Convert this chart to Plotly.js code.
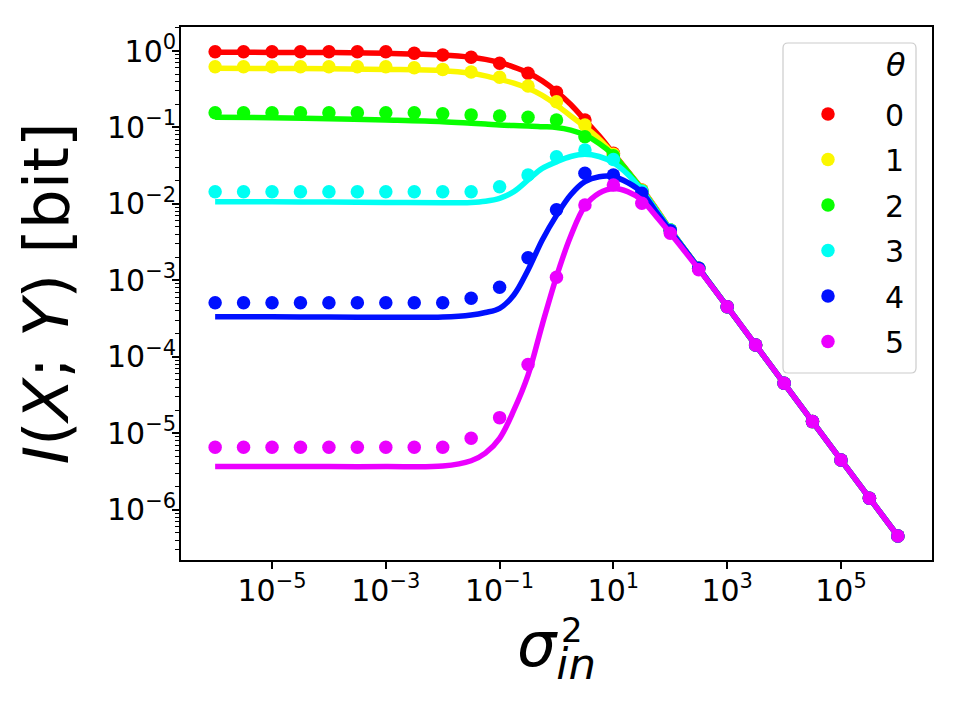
<!DOCTYPE html>
<html>
<head>
<meta charset="utf-8">
<script src="https://cdn.plot.ly/plotly-3.0.1.min.js"></script>
<style>
  html, body { margin: 0; padding: 0; background: #ffffff; }
  #chart { width: 960px; height: 720px; }
</style>
</head>
<body>
<div id="chart"></div>
<script>
// Input noise variance sampled every half decade (simulation points)
const sigma2Points = [1e-6, 3.16e-6, 1e-5, 3.16e-5, 1e-4, 3.16e-4, 1e-3, 3.16e-3, 1e-2, 3.16e-2,
  0.1, 0.316, 1, 3.16, 10, 31.6, 100, 316, 1000, 3160, 1e4, 3.16e4, 1e5, 3.16e5, 1e6];

// Simulated mutual information [bit] for each theta
const simTheta0 = [0.98, 0.98, 0.98, 0.98, 0.98, 0.98, 0.98, 0.933, 0.887, 0.828, 0.690, 0.511, 0.288,
  0.125, 0.0459, 0.0152, 0.00456, 0.00144, 4.52e-4, 1.43e-4, 4.50e-5, 1.42e-5, 4.47e-6, 1.41e-6, 4.53e-7];
const simTheta1 = [0.624, 0.624, 0.624, 0.624, 0.624, 0.624, 0.624, 0.603, 0.575, 0.531, 0.453, 0.348, 0.217,
  0.1076, 0.0447, 0.01514, 0.00456, 0.00144, 4.52e-4, 1.43e-4, 4.50e-5, 1.42e-5, 4.47e-6, 1.41e-6, 4.53e-7];
const simTheta2 = [0.156, 0.156, 0.156, 0.156, 0.156, 0.156, 0.156, 0.156, 0.151, 0.146, 0.141, 0.136, 0.125,
  0.0757, 0.0427, 0.0148, 0.00456, 0.00144, 4.52e-4, 1.43e-4, 4.50e-5, 1.42e-5, 4.47e-6, 1.41e-6, 4.53e-7];
const simTheta3 = [0.01445, 0.01445, 0.01445, 0.01445, 0.01445, 0.01445, 0.01445, 0.01445, 0.01445, 0.01445,
  0.0168, 0.0239, 0.0414, 0.0507, 0.0380, 0.01462, 0.00456, 0.00144, 4.52e-4, 1.43e-4, 4.50e-5, 1.42e-5,
  4.47e-6, 1.41e-6, 4.53e-7];
const simTheta4 = [5.10e-4, 5.10e-4, 5.10e-4, 5.10e-4, 5.10e-4, 5.10e-4, 5.10e-4, 5.10e-4, 5.10e-4, 5.82e-4,
  8.11e-4, 0.00198, 0.00841, 0.0251, 0.0239, 0.0138, 0.00447, 0.00144, 4.52e-4, 1.43e-4, 4.50e-5, 1.42e-5,
  4.47e-6, 1.41e-6, 4.53e-7];
const simTheta5 = [6.55e-6, 6.55e-6, 6.55e-6, 6.55e-6, 6.55e-6, 6.55e-6, 6.55e-6, 6.55e-6, 6.55e-6, 8.59e-6,
  1.60e-5, 7.94e-5, 0.001096, 0.00968, 0.01766, 0.01023, 0.00412, 0.00138, 4.52e-4, 1.43e-4, 4.50e-5, 1.42e-5,
  4.47e-6, 1.41e-6, 4.53e-7];

// Theory curves, sampled more finely through the transition
const sigma2Curve = [1e-6, 1e-5, 1e-4, 1e-3, 1e-2, 0.0316, 0.0562, 0.1, 0.178, 0.316, 0.562, 1, 1.78,
  3.16, 5.62, 10, 17.8, 31.6, 56.2, 100, 316, 1000, 1e4, 1e5, 1e6];
const theoryTheta0 = [0.962, 0.959, 0.955, 0.933, 0.887, 0.828, 0.776, 0.705, 0.617, 0.521, 0.407, 0.295, 0.1995,
  0.125, 0.0776, 0.0457, 0.0269, 0.01585, 0.00871, 0.00462, 0.00144, 4.52e-4, 4.50e-5, 4.47e-6, 4.53e-7];
const theoryTheta1 = [0.593, 0.590, 0.586, 0.575, 0.553, 0.511, 0.473, 0.426, 0.380, 0.325, 0.263, 0.197, 0.141,
  0.102, 0.0708, 0.0447, 0.0266, 0.01567, 0.00861, 0.00462, 0.00144, 4.52e-4, 4.50e-5, 4.47e-6, 4.53e-7];
const theoryTheta2 = [0.136, 0.134, 0.130, 0.125, 0.119, 0.1135, 0.1109, 0.1076, 0.1059, 0.1045, 0.1023, 0.100,
  0.0923, 0.0794, 0.0617, 0.0437, 0.0266, 0.01549, 0.00841, 0.00459, 0.00144, 4.52e-4, 4.50e-5, 4.47e-6, 4.53e-7];
const theoryTheta3 = [0.01069, 0.01064, 0.01057, 0.01047, 0.01035, 0.01047, 0.01084, 0.01183, 0.01445, 0.02056,
  0.02917, 0.0355, 0.0417, 0.0447, 0.0417, 0.0347, 0.0245, 0.01514, 0.00832, 0.00457, 0.00144, 4.52e-4,
  4.50e-5, 4.47e-6, 4.53e-7];
const theoryTheta4 = [3.35e-4, 3.33e-4, 3.31e-4, 3.29e-4, 3.31e-4, 3.52e-4, 3.80e-4, 4.31e-4, 6.43e-4, 0.001365,
  0.003373, 0.00708, 0.01318, 0.01954, 0.0227, 0.0227, 0.01905, 0.01413, 0.00794, 0.00447, 0.00144, 4.52e-4,
  4.50e-5, 4.47e-6, 4.53e-7];
const theoryTheta5 = [3.66e-6, 3.66e-6, 3.66e-6, 3.66e-6, 3.72e-6, 4.37e-6, 5.50e-6, 8.59e-6, 2.00e-5, 5.75e-5,
  2.63e-4, 0.001122, 0.0038, 0.00933, 0.0138, 0.01585, 0.01445, 0.01122, 0.00692, 0.00412, 0.0014, 4.52e-4,
  4.50e-5, 4.47e-6, 4.53e-7];

const thetaLabels = ['0', '1', '2', '3', '4', '5'];
const xTickVals = [1e-5, 1e-3, 1e-1, 1e1, 1e3, 1e5];
const xTickText = ['10<sup>−5</sup>', '10<sup>−3</sup>', '10<sup>−1</sup>', '10<sup>1</sup>', '10<sup>3</sup>', '10<sup>5</sup>'];
const yTickVals = [1, 1e-1, 1e-2, 1e-3, 1e-4, 1e-5, 1e-6];
const yTickText = ['10<sup>0</sup>', '10<sup>−1</sup>', '10<sup>−2</sup>', '10<sup>−3</sup>', '10<sup>−4</sup>', '10<sup>−5</sup>', '10<sup>−6</sup>'];

// hsv colormap samples
const colors = ['rgb(255,0,0)', 'rgb(251,247,0)', 'rgb(8,255,0)', 'rgb(0,255,243)', 'rgb(0,16,255)', 'rgb(235,0,255)'];

const simSeries = [simTheta0, simTheta1, simTheta2, simTheta3, simTheta4, simTheta5];
const theorySeries = [theoryTheta0, theoryTheta1, theoryTheta2, theoryTheta3, theoryTheta4, theoryTheta5];

const traces = [];
for (let k = 0; k < simSeries.length; k++) {
  traces.push({
    type: 'scatter', mode: 'markers',
    x: sigma2Points, y: simSeries[k],
    name: thetaLabels[k], legendgroup: 'g' + k,
    marker: {color: colors[k], size: 13.5, line: {width: 0}},
    hoverinfo: 'x+y+name'
  });
  traces.push({
    type: 'scatter', mode: 'lines',
    x: sigma2Curve, y: theorySeries[k],
    name: thetaLabels[k], legendgroup: 'g' + k, showlegend: false,
    line: {color: colors[k], width: 5.5, shape: 'spline', smoothing: 1},
    hoverinfo: 'skip'
  });
}

// rounded legend frame in paper coordinates
const fx0 = 0.8016, fx1 = 0.9787, fy0 = 0.3508, fy1 = 0.970, rx = 0.0067, ry = 0.0094;
const framePath = `M ${fx0 + rx},${fy1} L ${fx1 - rx},${fy1} Q ${fx1},${fy1} ${fx1},${fy1 - ry} ` +
  `L ${fx1},${fy0 + ry} Q ${fx1},${fy0} ${fx1 - rx},${fy0} L ${fx0 + rx},${fy0} Q ${fx0},${fy0} ${fx0},${fy0 + ry} ` +
  `L ${fx0},${fy1 - ry} Q ${fx0},${fy1} ${fx0 + rx},${fy1} Z`;

const layout = {
  width: 960, height: 720,
  margin: {l: 181, r: 28, t: 27, b: 160},
  paper_bgcolor: '#ffffff', plot_bgcolor: '#ffffff',
  font: {family: 'DejaVu Sans', color: '#000000'},
  showlegend: true,
  hovermode: 'closest',
  xaxis: {
    type: 'log', range: [-6.6, 6.6],
    tickmode: 'array', tickvals: xTickVals, ticktext: xTickText,
    tickfont: {size: 30, family: 'DejaVu Sans'},
    ticks: 'outside', ticklen: 7, tickwidth: 1.6, tickcolor: '#000000',
    ticklabelstandoff: -4,
    showline: true, linecolor: '#000000', linewidth: 1.7, mirror: true,
    showgrid: false, zeroline: false,
    title: {text: '<i>σ</i><sub><i>in</i></sub>', font: {size: 62, family: 'DejaVu Sans'}, standoff: 12}
  },
  yaxis: {
    type: 'log', range: [-6.658, 0.314],
    tickmode: 'array', tickvals: yTickVals, ticktext: yTickText,
    tickfont: {size: 30, family: 'DejaVu Sans'},
    ticks: 'outside', ticklen: 7, tickwidth: 1.6, tickcolor: '#000000',
    ticklabelstandoff: -10,
    minor: {ticks: 'outside', ticklen: 4, tickwidth: 1.2, tickcolor: '#000000', dtick: 'D1', showgrid: false},
    showline: true, linecolor: '#000000', linewidth: 1.7, mirror: true,
    showgrid: false, zeroline: false,
    title: {text: '<i>I</i>(<i>X</i>; <i>Y</i>) [bit]', font: {size: 63, family: 'DejaVu Sans'}, standoff: 18}
  },
  legend: {
    x: 0.7856, xanchor: 'left', y: 0.8855, yanchor: 'top',
    bgcolor: 'rgba(0,0,0,0)', borderwidth: 0,
    font: {size: 30, family: 'DejaVu Sans'},
    itemwidth: 104, tracegroupgap: 3.5,
    itemclick: false, itemdoubleclick: false
  },
  shapes: [{
    type: 'path', xref: 'paper', yref: 'paper', path: framePath,
    line: {color: '#cccccc', width: 1.2}, fillcolor: 'rgba(255,255,255,0.8)', layer: 'above'
  }],
  annotations: [
    {
      xref: 'paper', yref: 'paper', x: 0.5213, y: -0.131, xanchor: 'center', yanchor: 'middle',
      text: '2', showarrow: false, font: {size: 34, family: 'DejaVu Sans', color: '#000000'}
    },
    {
      xref: 'paper', yref: 'paper', x: 0.952, y: 0.928, xanchor: 'center', yanchor: 'middle',
      text: '<i>θ</i>', showarrow: false, font: {size: 32, family: 'DejaVu Sans', color: '#000000'}
    }
  ]
};

Plotly.newPlot('chart', traces, layout, {displayModeBar: false});
</script>
</body>
</html>
